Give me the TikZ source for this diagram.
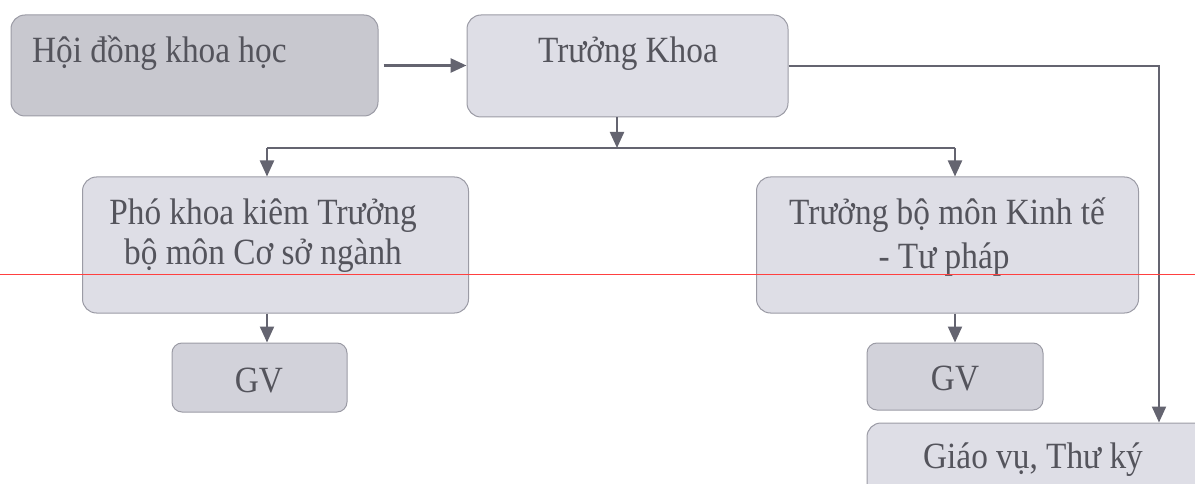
\documentclass[tikz,border=0pt]{standalone}
\usepackage{fontspec}
\setmainfont[FakeStretch=0.9]{Liberation Serif}
\usetikzlibrary{arrows.meta}
\definecolor{boxfill}{RGB}{222,222,230}
\definecolor{darkfill}{RGB}{200,200,207}
\definecolor{gvfill}{RGB}{210,210,218}
\definecolor{boxline}{RGB}{155,155,165}
\definecolor{txtgrey}{RGB}{84,84,92}
\definecolor{arrgrey}{RGB}{100,100,112}

\begin{document}
\begin{tikzpicture}[x=1pt,y=-1pt,
  box/.style={draw=boxline,fill=boxfill,line width=1pt,rounded corners=14pt},
  lbl/.style={text=txtgrey,font=\fontsize{37}{42}\selectfont,inner sep=0pt},
  conn/.style={draw=arrgrey,line width=2.2pt,-{Triangle[length=16pt,width=14pt]}},
  wire/.style={draw=arrgrey,line width=1.8pt}]
\useasboundingbox (0,0) rectangle (1195,484);

% boxes
\path (194.5,65.5) node[box,fill=darkfill,minimum width=367pt,minimum height=101pt] (hd) {};
\path (627.5,66) node[box,minimum width=321pt,minimum height=102pt] (tk) {};
\path (275.5,245) node[box,minimum width=386pt,minimum height=136pt] (pk) {};
\path (947.5,245) node[box,minimum width=382pt,minimum height=136pt] (tbm) {};
\path (259.5,377.5) node[box,fill=gvfill,rounded corners=10pt,minimum width=175pt,minimum height=69pt] (gva) {};
\path (955,376.5) node[box,fill=gvfill,rounded corners=10pt,minimum width=176pt,minimum height=67pt] (gvb) {};
\path (1040,462) node[box,minimum width=346pt,minimum height=78pt] (gvtk) {};

% texts
\path (32,63) node[lbl,anchor=base west] (hdtext) {Hội đồng khoa học};
\path (628,63) node[lbl,anchor=base] (tktext) {Trưởng Khoa};
\path (263,224) node[lbl,anchor=base] (pktexta) {Phó khoa kiêm Trưởng};
\path (263,264) node[lbl,anchor=base] (pktextb) {bộ môn Cơ sở ngành};
\path (947,225) node[lbl,anchor=base] (tbmtexta) {Trưởng bộ môn Kinh tế};
\path (944,269) node[lbl,anchor=base] (tbmtextb) {- Tư pháp};
\path (259,392) node[lbl,anchor=base] (gvatext) {GV};
\path (955,390) node[lbl,anchor=base] (gvbtext) {GV};
\path (1033,468) node[lbl,anchor=base] (gvtktext) {Giáo vụ, Thư ký};

% connectors
\coordinate (bus) at (617,148);
\coordinate (busl) at (267,148);
\coordinate (busr) at (955,148);
\coordinate (corner) at (1159,66);
\draw[conn,line width=2.8pt,shorten <=5pt] (hd.east) -- (hd.east -| tk.west);
\draw[conn] (tk.south -| bus) -- (bus);
\draw[wire] (busl) -- (busr);
\draw[conn] (busl) -- (busl |- pk.north);
\draw[conn] (busr) -- (busr |- tbm.north);
\draw[conn] (busl |- pk.south) -- (busl |- gva.north);
\draw[conn] (gvb.north |- tbm.south) -- (gvb.north);
\draw[conn] (tk.east) -- (corner) -- (corner |- gvtk.north);

% scan mark
\draw[red!75,line width=0.6pt] (0,274) -- (1195,274);
\end{tikzpicture}
\end{document}
